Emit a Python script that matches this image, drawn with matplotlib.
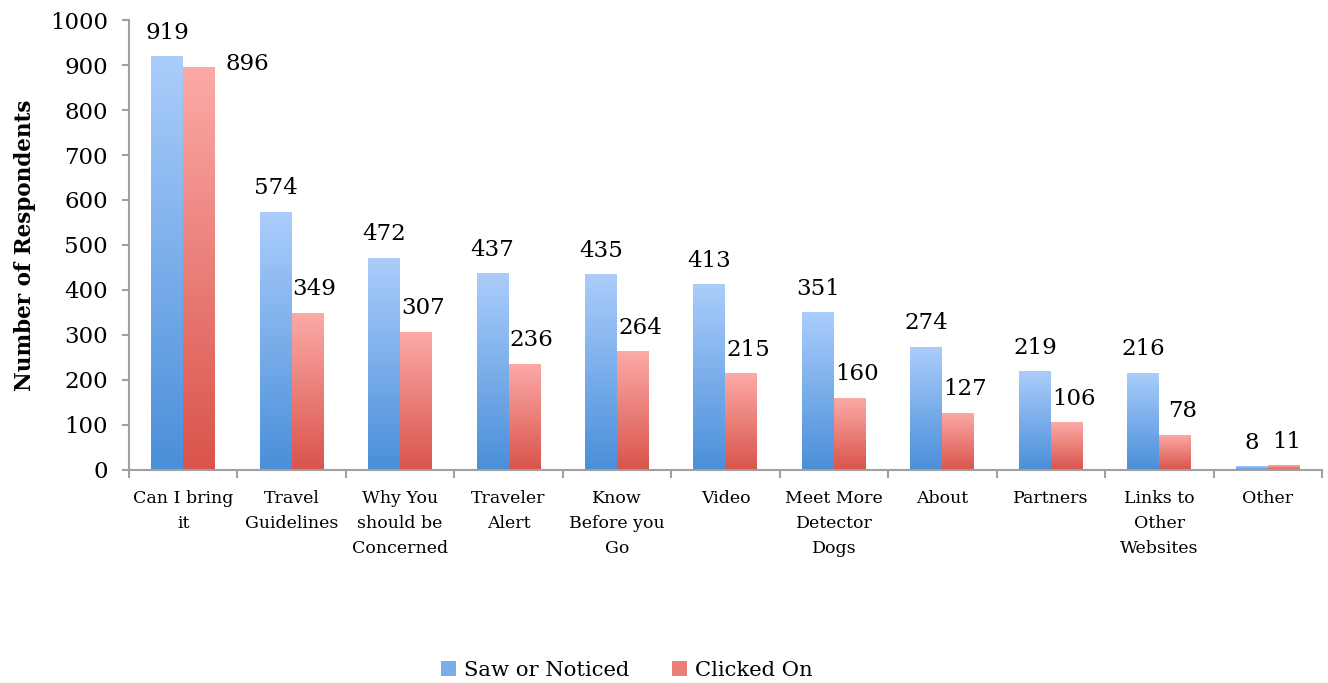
import numpy as np
import matplotlib
matplotlib.use("Agg")
import matplotlib.pyplot as plt
from matplotlib.colors import LinearSegmentedColormap
from matplotlib.patches import Patch

categories = ["Can I bring\nit", "Travel\nGuidelines", "Why You\nshould be\nConcerned",
              "Traveler\nAlert", "Know\nBefore you\nGo", "Video", "Meet More\nDetector\nDogs",
              "About", "Partners", "Links to\nOther\nWebsites", "Other"]
saw = [919, 574, 472, 437, 435, 413, 351, 274, 219, 216, 8]
clicked = [896, 349, 307, 236, 264, 215, 160, 127, 106, 78, 11]

plt.rcParams['font.family'] = ['DejaVu Serif']

blue_cmap = LinearSegmentedColormap.from_list("b", ["#4a8fda", "#abcdfb"])
red_cmap = LinearSegmentedColormap.from_list("r", ["#d9544b", "#fcaaa7"])

fig = plt.figure(figsize=(13.28, 6.83), dpi=100)
ax = fig.add_axes([0.0971, 0.3119, 0.8984, 0.6588])

x = np.arange(len(categories))
w = 0.295
grad = np.linspace(0, 1, 256).reshape(-1, 1)


def gradient_bars(xs, vals, cmap):
    bars = ax.bar(xs, vals, w, color="none", edgecolor="none")
    for b in bars:
        x0, y0 = b.get_x(), b.get_y()
        im = ax.imshow(grad, cmap=cmap, origin="lower", aspect="auto",
                       extent=[x0, x0 + b.get_width(), y0, y0 + b.get_height()],
                       zorder=2)
        im.set_clip_path(b)
    return bars


gradient_bars(x - w / 2, saw, blue_cmap)
gradient_bars(x + w / 2, clicked, red_cmap)

for i in range(len(categories)):
    ax.annotate(str(saw[i]), (x[i] - w / 2, saw[i]), xytext=(0, 9),
                textcoords="offset points", ha="center", va="bottom", fontsize=16.5)
    if i == 0:
        off = (35, -6)
    elif i == len(categories) - 1:
        off = (2, 9)
    else:
        off = (5, 9)
    ax.annotate(str(clicked[i]), (x[i] + w / 2, clicked[i]), xytext=off,
                textcoords="offset points", ha="center", va="bottom", fontsize=16.5)

ax.set_xlim(-0.5, len(categories) - 0.5)
ax.set_ylim(0, 1000)
ax.set_yticks(range(0, 1001, 100))
ax.tick_params(axis="y", labelsize=16.5, length=5, color="#a0a0a0", width=1.5, pad=10)

ax.set_xticks(np.arange(-0.5, len(categories), 1))
ax.set_xticklabels([])
ax.tick_params(axis="x", length=6, color="#a0a0a0", width=1.5)
for i, c in enumerate(categories):
    ax.text(x[i], -45, c, ha="center", va="top", fontsize=12.5, linespacing=1.6)

for s in ["top", "right"]:
    ax.spines[s].set_visible(False)
for s in ["left", "bottom"]:
    ax.spines[s].set_color("#a0a0a0")
    ax.spines[s].set_linewidth(1.5)

ax.set_ylabel("Number of Respondents", fontsize=15.5, fontweight="bold", labelpad=10)

handles = [Patch(facecolor="#7aaeeb", label="Saw or Noticed"),
           Patch(facecolor="#ea7f78", label="Clicked On")]
fig.legend(handles=handles, loc="center", bbox_to_anchor=(0.472, 0.019), ncol=2,
           frameon=False, fontsize=15.2, handlelength=0.7, handleheight=0.7,
           handletextpad=0.4, columnspacing=2.0)

fig.savefig("out.png", dpi=100)
